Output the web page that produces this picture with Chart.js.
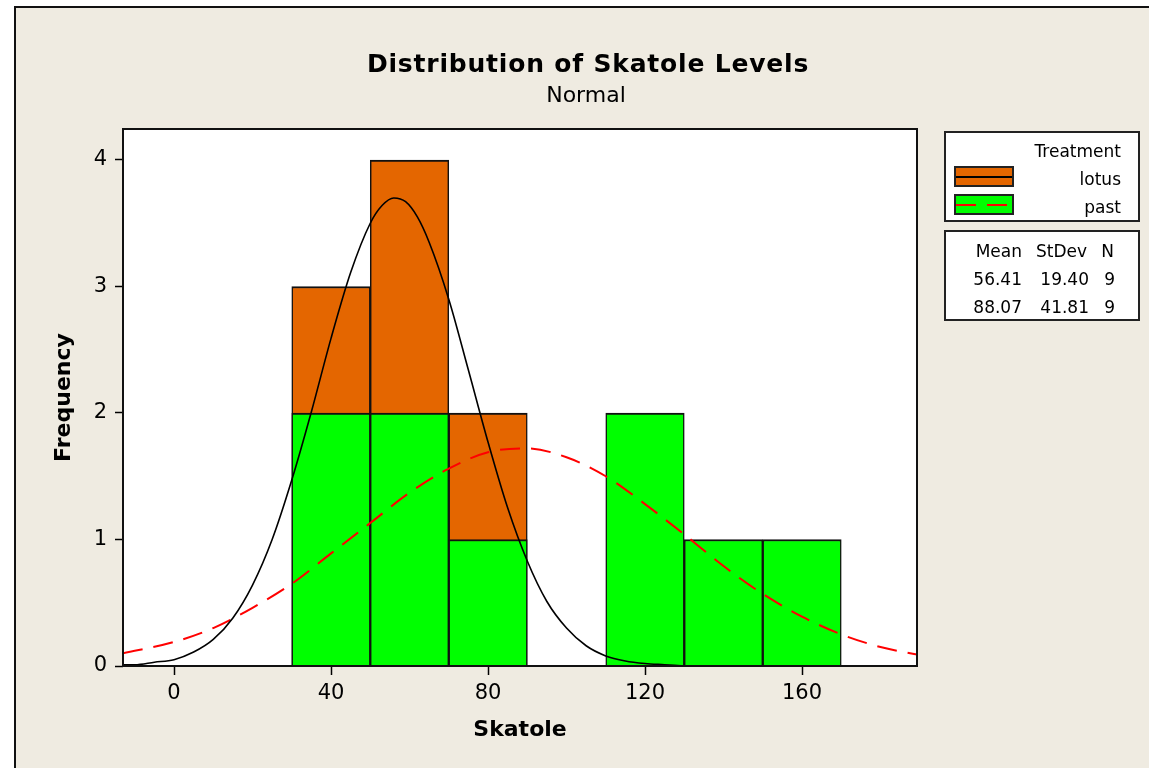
<!DOCTYPE html>
<html>
<head>
<meta charset="utf-8">
<title>Distribution of Skatole Levels</title>
<script src="https://cdn.jsdelivr.net/npm/chart.js@4.4.1/dist/chart.umd.min.js"></script>
<style>
  html, body { margin: 0; padding: 0; background: #fff; }
  #page { position: relative; width: 1149px; height: 768px; overflow: hidden; font-family: "DejaVu Sans", sans-serif; color: #000; }
  #frame { position: absolute; left: 14px; top: 6px; right: 0; bottom: 0; background: #EFEBE1; border-left: 2px solid #111; border-top: 2px solid #111; }
  #chart { position: absolute; left: 0; top: 0; }
  .txt { position: absolute; white-space: nowrap; line-height: 1; }
  .box { position: absolute; box-sizing: border-box; background: #fff; border: 2px solid #222; }
  .swatch { position: absolute; box-sizing: border-box; border: 2px solid #222; }
  .swatch div { position: absolute; left: 0; right: 0; top: 50%; height: 2px; margin-top: -1px; }
</style>
</head>
<body>
<div id="page">
  <div id="frame"></div>
  <canvas id="chart" width="1149" height="768"></canvas>
</div>
<script>
// histogram counts (bin midpoints, bin width 20)
const seriesNames = ['lotus', 'past'];
const lotusBins = [40, 60, 80];
const lotusCounts = [3, 4, 2];
const pastBins = [40, 60, 80, 120, 140, 160];
const pastCounts = [2, 2, 1, 2, 1, 1];

const xTicks = [0, 40, 80, 120, 160];
const yTicks = [0, 1, 2, 3, 4];

// summary table
const statMean = [56.41, 88.07];
const statStDev = [19.40, 41.81];
const statN = [9, 9];

// fitted normal curves
const lotusCurveX = [-13, -10, -5, 0, 5, 10, 15, 20, 25, 30, 35, 40, 45, 50, 53, 56, 59, 62, 65, 70, 75, 80, 85, 90, 95, 100, 105, 110, 115, 120, 125, 130];
const lotusCurveY = [0.01, 0.01, 0.03, 0.05, 0.11, 0.21, 0.38, 0.64, 1.00, 1.47, 2.01, 2.59, 3.11, 3.50, 3.64, 3.70, 3.67, 3.55, 3.35, 2.90, 2.34, 1.77, 1.25, 0.83, 0.51, 0.30, 0.16, 0.08, 0.04, 0.02, 0.01, 0.00];
const pastCurveX = [-13, 0, 10, 20, 30, 40, 50, 60, 70, 80, 90, 100, 110, 120, 130, 140, 150, 160, 170, 180, 189.3];
const pastCurveY = [0.10, 0.19, 0.30, 0.46, 0.65, 0.89, 1.13, 1.37, 1.56, 1.69, 1.72, 1.65, 1.50, 1.28, 1.04, 0.79, 0.57, 0.39, 0.25, 0.15, 0.09];

const colors = { lotus: '#E46600', past: '#00FF00' };
const FONT = '"DejaVu Sans", sans-serif';

const page = document.getElementById('page');

function addText(str, x, base, size, align, bold, spacing) {
  const d = document.createElement('div');
  d.className = 'txt';
  d.textContent = str;
  d.style.fontSize = size + 'px';
  if (bold) d.style.fontWeight = 'bold';
  if (spacing) d.style.letterSpacing = spacing + 'px';
  d.style.top = Math.round(base - 0.846 * size) + 'px';
  if (align === 'right') {
    d.style.right = (1149 - x) + 'px';
  } else if (align === 'center') {
    d.style.left = (x - 600) + 'px';
    d.style.width = '1200px';
    d.style.textAlign = 'center';
  } else {
    d.style.left = x + 'px';
  }
  page.appendChild(d);
}

function addBox(cls, left, top, w, h) {
  const d = document.createElement('div');
  d.className = cls;
  d.style.left = left + 'px';
  d.style.top = top + 'px';
  d.style.width = w + 'px';
  d.style.height = h + 'px';
  page.appendChild(d);
  return d;
}

// titles
addText('Distribution of Skatole Levels', 588, 72, 25, 'center', true, 0.8);
addText('Normal', 586, 103, 22, 'center');

// legend
addBox('box', 944, 131, 196, 91);
addText('Treatment', 1121, 157, 17, 'right');
seriesNames.forEach((name, i) => {
  const base = 185 + i * 28;
  addText(name, 1121, base, 17, 'right');
  const sw = addBox('swatch', 954, 166 + i * 28, 60, 21);
  sw.style.background = colors[name];
  const line = document.createElement('div');
  line.style.background = i === 0 ? '#000'
    : 'repeating-linear-gradient(to right, #FF0000 0 20px, transparent 20px 31px)';
  sw.appendChild(line);
});

// stats table
addBox('box', 944, 230, 196, 91);
addText('Mean', 1022, 257, 17, 'right');
addText('StDev', 1087, 257, 17, 'right');
addText('N', 1114, 257, 17, 'right');
statMean.forEach((m, i) => {
  const base = 285 + i * 28;
  addText(m.toFixed(2), 1022, base, 17, 'right');
  addText(statStDev[i].toFixed(2), 1089, base, 17, 'right');
  addText(String(statN[i]), 1115, base, 17, 'right');
});

const toPts = (xs, ys) => xs.map((x, i) => ({ x: x, y: ys[i] }));

// white plot area + black frame
const plotFrame = {
  id: 'plotFrame',
  beforeDraw(chart) {
    const { ctx, chartArea: a } = chart;
    ctx.save();
    ctx.fillStyle = '#fff';
    ctx.fillRect(a.left, a.top, a.width, a.height);
    ctx.restore();
  },
  afterDatasetsDraw(chart) {
    const { ctx, chartArea: a } = chart;
    ctx.save();
    ctx.strokeStyle = '#111';
    ctx.lineWidth = 2;
    ctx.strokeRect(a.left, a.top, a.width, a.height);
    ctx.restore();
  }
};

const barBorder = { left: 1.5, right: 1.5, top: 2, bottom: 0 };

new Chart(document.getElementById('chart'), {
  type: 'bar',
  data: {
    datasets: [
      {
        type: 'line',
        label: 'lotus fit',
        data: toPts(lotusCurveX, lotusCurveY),
        borderColor: '#000',
        borderWidth: 1.6,
        pointRadius: 0,
        cubicInterpolationMode: 'monotone',
        order: 0
      },
      {
        type: 'line',
        label: 'past fit',
        data: toPts(pastCurveX, pastCurveY),
        borderColor: '#FF0000',
        borderWidth: 2,
        borderDash: [20, 11],
        pointRadius: 0,
        cubicInterpolationMode: 'monotone',
        order: 0
      },
      {
        label: 'past',
        data: toPts(pastBins, pastCounts),
        backgroundColor: colors.past,
        borderColor: '#111',
        borderWidth: barBorder,
        order: 1
      },
      {
        label: 'lotus',
        data: toPts(lotusBins, lotusCounts),
        backgroundColor: colors.lotus,
        borderColor: '#111',
        borderWidth: barBorder,
        order: 2
      }
    ]
  },
  options: {
    responsive: false,
    animation: false,
    events: [],
    devicePixelRatio: 1,
    layout: { padding: { left: 0, top: 129, right: 232, bottom: 0 } },
    datasets: {
      bar: { grouped: false, barPercentage: 1, categoryPercentage: 1 }
    },
    plugins: {
      legend: { display: false },
      title: { display: false },
      tooltip: { enabled: false }
    },
    scales: {
      x: {
        type: 'linear',
        min: -13,
        max: 189.3,
        offset: false,
        afterBuildTicks: s => { s.ticks = xTicks.map(v => ({ value: v })); },
        afterFit: s => { s.height = 102; },
        grid: { display: true, offset: false, drawOnChartArea: false, drawTicks: true, tickLength: 9, tickColor: '#000', tickWidth: 1.5 },
        border: { display: false },
        ticks: { font: { family: FONT, size: 21 }, color: '#000', padding: 6, maxRotation: 0 },
        title: { display: true, text: 'Skatole', color: '#000', font: { family: FONT, size: 22, weight: 'bold' }, padding: { top: 0, bottom: 25 } }
      },
      y: {
        type: 'linear',
        min: 0,
        max: 4.245,
        afterBuildTicks: s => { s.ticks = yTicks.map(v => ({ value: v })); },
        afterFit: s => { s.width = 123; },
        grid: { display: true, drawOnChartArea: false, drawTicks: true, tickLength: 8, tickColor: '#000', tickWidth: 1.5 },
        border: { display: false },
        ticks: { font: { family: FONT, size: 21 }, color: '#000', padding: 8 },
        title: { display: true, text: 'Frequency', color: '#000', font: { family: FONT, size: 22, weight: 'bold' }, padding: { top: 51, bottom: 0 } }
      }
    }
  },
  plugins: [plotFrame]
});
</script>
</body>
</html>
